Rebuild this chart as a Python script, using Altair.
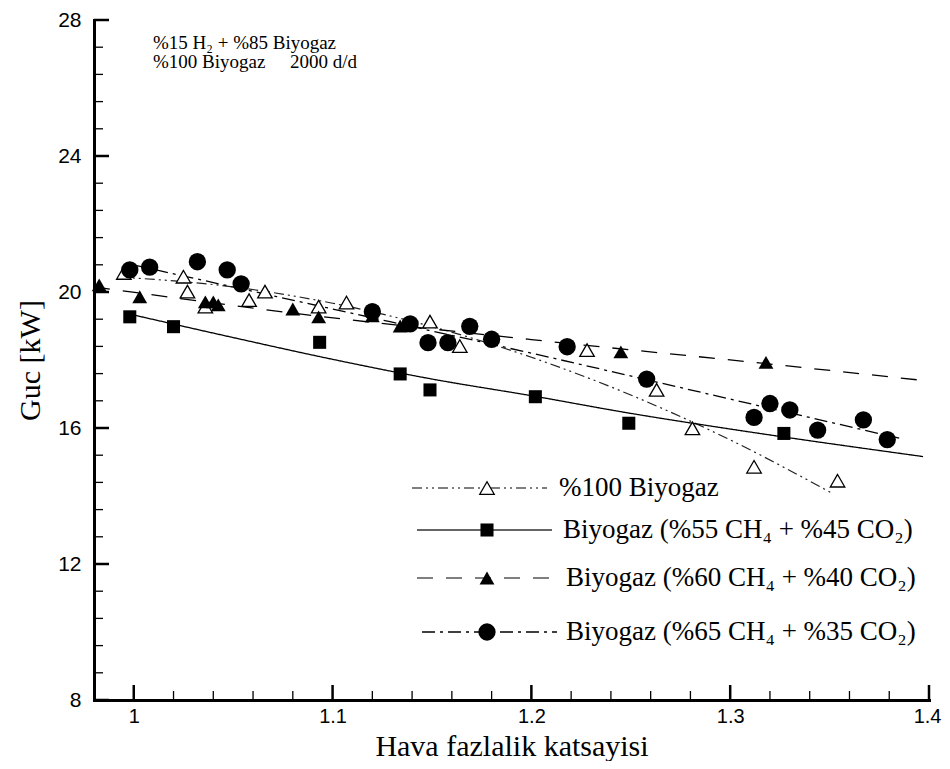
import altair as alt
import pandas as pd

# ---------------- data ----------------
x_domain = [0.98, 1.4]
y_domain = [8, 28]

x_major = [1.0, 1.1, 1.2, 1.3, 1.4]
x_minor = [1.02, 1.04, 1.06, 1.08, 1.12, 1.14, 1.16, 1.18, 1.22, 1.24, 1.26, 1.28,
           1.32, 1.34, 1.36, 1.38]
y_major = [8, 12, 16, 20, 24, 28]
y_minor = [8.8, 9.6, 10.4, 11.2, 12.8, 13.6, 14.4, 15.2, 16.8, 17.6, 18.4, 19.2,
           20.8, 21.6, 22.4, 23.2, 24.8, 25.6, 26.4, 27.2]

# %100 Biyogaz (open triangles)
b100_x = [0.995, 1.025, 1.027, 1.036, 1.058, 1.066, 1.093, 1.107, 1.149, 1.164,
          1.228, 1.263, 1.281, 1.312, 1.354]
b100_y = [20.56, 20.45, 20.01, 19.57, 19.76, 20.01, 19.57, 19.69, 19.13, 18.41,
          18.29, 17.12, 15.99, 14.86, 14.45]
fit100_x = [0.9925, 1.05, 1.1, 1.15, 1.2, 1.25, 1.3, 1.351]
fit100_y = [20.44, 20.15, 19.67, 18.98, 18.08, 16.97, 15.65, 14.09]

# Biyogaz %55 CH4 (squares)
b55_x = [0.998, 1.020, 1.0935, 1.134, 1.149, 1.202, 1.249, 1.327]
b55_y = [19.27, 18.98, 18.52, 17.59, 17.12, 16.92, 16.14, 15.84]
fit55_x = [0.998, 1.05, 1.1, 1.15, 1.2, 1.25, 1.3, 1.397]
fit55_y = [19.35, 18.66, 18.02, 17.44, 16.95, 16.43, 15.97, 15.16]

# Biyogaz %60 CH4 (filled triangles)
b60_x = [0.9826, 1.003, 1.036, 1.040, 1.0425, 1.080, 1.093, 1.120, 1.134, 1.245, 1.318]
b60_y = [20.21, 19.86, 19.71, 19.71, 19.62, 19.50, 19.27, 19.30, 19.00, 18.24, 17.93]
fit60_x = [0.98, 1.08, 1.2, 1.32, 1.4]
fit60_y = [20.15, 19.38, 18.6, 17.88, 17.38]

# Biyogaz %65 CH4 (circles)
b65_x = [0.998, 1.008, 1.032, 1.047, 1.054, 1.120, 1.139, 1.148, 1.158, 1.169, 1.180,
         1.218, 1.258, 1.312, 1.320, 1.330, 1.344, 1.367, 1.379]
b65_y = [20.65, 20.73, 20.89, 20.65, 20.24, 19.42, 19.06, 18.51, 18.51, 18.99, 18.61,
         18.39, 17.44, 16.31, 16.72, 16.53, 15.94, 16.24, 15.66]
fit65_x = [0.998, 1.1, 1.2, 1.3, 1.385]
fit65_y = [20.82, 19.5, 18.2, 16.85, 15.7]

legend_labels = [
    "%100 Biyogaz",
    "Biyogaz (%55 CH\u2084 + %45 CO\u2082)",
    "Biyogaz (%60 CH\u2084 + %40 CO\u2082)",
    "Biyogaz (%65 CH\u2084 + %35 CO\u2082)",
]
note_line1 = "%15 H\u2082 + %85 Biyogaz"
note_line2 = "%100 Biyogaz"
note_line2b = "2000 d/d"
x_title = "Hava fazlalik katsayisi"
y_title = "Guc [kW]"

# ---------------- styling ----------------
W, H = 835, 680
SERIF = "Liberation Serif, Times New Roman, serif"
SANS = "Liberation Sans, Arial, sans-serif"

xs = alt.Scale(domain=x_domain, nice=False, zero=False)
ys = alt.Scale(domain=y_domain, nice=False, zero=False)

dash100 = [10, 4, 2, 4, 2, 4]
dash55 = [1, 0]
dash60 = [16, 13]
dash65 = [13, 5, 3, 5]

x_axis = alt.Axis(values=x_major, format="~g", ticks=False, tickSize=0, grid=False,
                  labelPadding=6, labelFontSize=20, labelFlush=True, labelFlushOffset=12,
                  title=x_title, titleFontSize=30, titleBaseline="alphabetic",
                  titleY=55)
y_axis = alt.Axis(values=y_major, format="~g", ticks=False, tickSize=0, grid=False,
                  labelPadding=13, labelFontSize=21, labelFlush=False, title=y_title,
                  titleFontSize=30, titlePadding=12)


def df(xv, yv):
    return pd.DataFrame({"x": xv, "y": yv})


one = pd.DataFrame({"k": [0]})

X = lambda: alt.X("x:Q", scale=xs, axis=x_axis)
Y = lambda: alt.Y("y:Q", scale=ys, axis=y_axis)

xmaj = alt.Chart(pd.DataFrame({"x": x_major})).mark_rule(color="black", strokeWidth=2.5).encode(
    x=X(), y=alt.value(H), y2=alt.value(H - 15))
xmin = alt.Chart(pd.DataFrame({"x": x_minor})).mark_rule(color="black", strokeWidth=1.3).encode(
    x=X(), y=alt.value(H), y2=alt.value(H - 9))
ymaj = alt.Chart(pd.DataFrame({"y": y_major})).mark_rule(color="black", strokeWidth=2.5).encode(
    y=Y(), x=alt.value(0), x2=alt.value(15))
ymin = alt.Chart(pd.DataFrame({"y": y_minor})).mark_rule(color="black", strokeWidth=1.3).encode(
    y=Y(), x=alt.value(0), x2=alt.value(9))


def fit(xv, yv, dash, color="black", width=1.2):
    return alt.Chart(df(xv, yv)).mark_line(
        color=color, strokeWidth=width, strokeDash=dash, interpolate="monotone"
    ).encode(x=X(), y=Y(), order="x:Q")


lines = [
    fit(fit100_x, fit100_y, dash100, "#222222", 1.2),
    fit(fit55_x, fit55_y, dash55, "black", 1.3),
    fit(fit60_x, fit60_y, dash60, "black", 1.3),
    fit(fit65_x, fit65_y, dash65, "black", 1.3),
]

pts100 = alt.Chart(df(b100_x, b100_y)).mark_point(
    shape="triangle-up", filled=True, fill="white", stroke="black", strokeWidth=1.3,
    size=210, opacity=1).encode(x=X(), y=Y())
pts55 = alt.Chart(df(b55_x, b55_y)).mark_point(
    shape="square", filled=True, color="black", size=170, opacity=1).encode(x=X(), y=Y())
pts60 = alt.Chart(df(b60_x, b60_y)).mark_point(
    shape="triangle-up", filled=True, color="black", size=220, opacity=1).encode(x=X(), y=Y())
pts65 = alt.Chart(df(b65_x, b65_y)).mark_point(
    shape="circle", filled=True, color="black", size=300, opacity=1).encode(x=X(), y=Y())

# ---------------- legend (built from marks) ----------------
leg_rows = [
    # (y, x0, x1, marker x, text x, dash, color, shape, filled)
    (468, 318, 453, 393, 465, dash100, "#555555", "triangle-up", False),
    (510, 323, 458, 393, 469, dash55, "#333333", "square", True),
    (558, 323, 458, 393, 472, dash60, "#555555", "triangle-up", True),
    (612, 328, 463, 393, 472, dash65, "black", "circle", True),
]
leg_sizes = [210, 170, 220, 300]
legend_layers = []
for (yy, x0, x1, mx, tx, dash, col, shp, fl), lab, sz in zip(leg_rows, legend_labels, leg_sizes):
    legend_layers.append(alt.Chart(one).mark_rule(color=col, strokeWidth=1.3, strokeDash=dash).encode(
        x=alt.value(x0), x2=alt.value(x1), y=alt.value(yy)))
    if fl:
        legend_layers.append(alt.Chart(one).mark_point(
            shape=shp, filled=True, color="black", size=sz, opacity=1).encode(
            x=alt.value(mx), y=alt.value(yy)))
    else:
        legend_layers.append(alt.Chart(one).mark_point(
            shape=shp, filled=True, fill="white", stroke="black", strokeWidth=1.3,
            size=sz, opacity=1).encode(x=alt.value(mx), y=alt.value(yy)))
    legend_layers.append(alt.Chart(one).mark_text(
        align="left", baseline="middle", font=SERIF, fontSize=27, color="black", text=lab).encode(
        x=alt.value(tx), y=alt.value(yy)))

notes = [
    alt.Chart(one).mark_text(align="left", baseline="middle", font=SERIF, fontSize=19,
                             color="black", text=note_line1).encode(x=alt.value(59), y=alt.value(23)),
    alt.Chart(one).mark_text(align="left", baseline="middle", font=SERIF, fontSize=19,
                             color="black", text=note_line2).encode(x=alt.value(59), y=alt.value(42)),
    alt.Chart(one).mark_text(align="left", baseline="middle", font=SERIF, fontSize=19,
                             color="black", text=note_line2b).encode(x=alt.value(196), y=alt.value(42)),
]

chart = alt.layer(
    xmaj, ymaj, xmin, ymin, *lines, pts100, pts60, pts55, pts65, *legend_layers, *notes
).properties(
    width=W, height=H, autosize=alt.AutoSizeParams(type="none"),
    padding={"left": 86, "top": 12, "right": 13, "bottom": 61},
    background="white",
).configure_view(stroke=None).configure_axis(
    domain=True, domainWidth=3, domainColor="black", domainCap="square",
    labelFont=SANS, labelColor="black",
    titleFont=SERIF, titleFontWeight="normal", titleColor="black",
)

chart.save("out.html", embed_options={"renderer": "svg", "actions": False})
